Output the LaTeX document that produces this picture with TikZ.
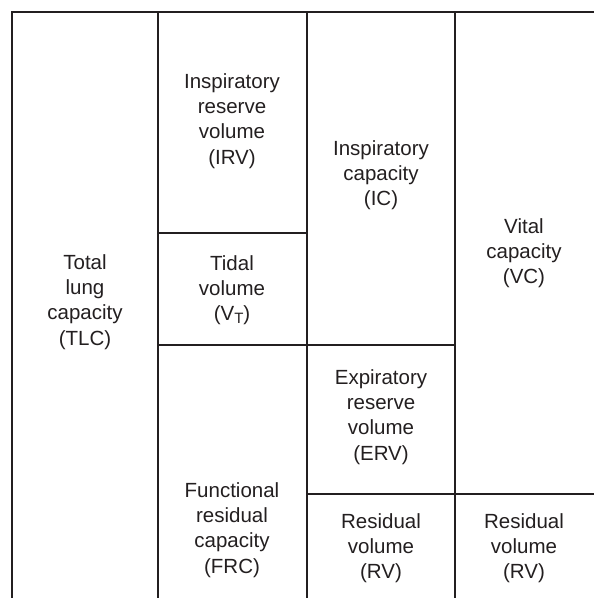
\documentclass[tikz,border=0pt]{standalone}
\usepackage{fontspec}
\setmainfont{Liberation Sans}
\definecolor{ink}{HTML}{231F20}
\begin{document}
\begin{tikzpicture}[x=1pt,y=-1pt,
  grid/.style={draw=ink,line width=2.5pt},
  lbl/.style={align=center,text=ink,font=\fontsize{20.5}{25.2}\selectfont,inner sep=0pt}]
\useasboundingbox (0,0) rectangle (594,598);
% frame and cells
\draw[grid] (12,598) -- (12,12) -- (594,12);
\draw[grid] (158,12) -- (158,598);
\draw[grid] (307,12) -- (307,598);
\draw[grid] (455,12) -- (455,598);
\draw[grid] (158,233) -- (307,233);
\draw[grid] (158,345) -- (455,345);
\draw[grid] (307,494) -- (594,494);
% labels
\node[lbl] (tlc) at (85,302) {Total\\lung\\capacity\\(TLC)};
\node[lbl] (irv) at (232,121) {Inspiratory\\reserve\\volume\\(IRV)};
\node[lbl] (vt) at (232,290) {Tidal\\volume\\(V\raisebox{-0.3ex}{\fontsize{15}{15}\selectfont T})};
\node[lbl] (frc) at (232,530) {Functional\\residual\\capacity\\(FRC)};
\node[lbl] (ic) at (381,175) {Inspiratory\\capacity\\(IC)};
\node[lbl] (erv) at (381,417) {Expiratory\\reserve\\volume\\(ERV)};
\node[lbl] (rv1) at (381,548) {Residual\\volume\\(RV)};
\node[lbl] (vc) at (524,253) {Vital\\capacity\\(VC)};
\node[lbl] (rv2) at (524,548) {Residual\\volume\\(RV)};
\end{tikzpicture}
\end{document}
